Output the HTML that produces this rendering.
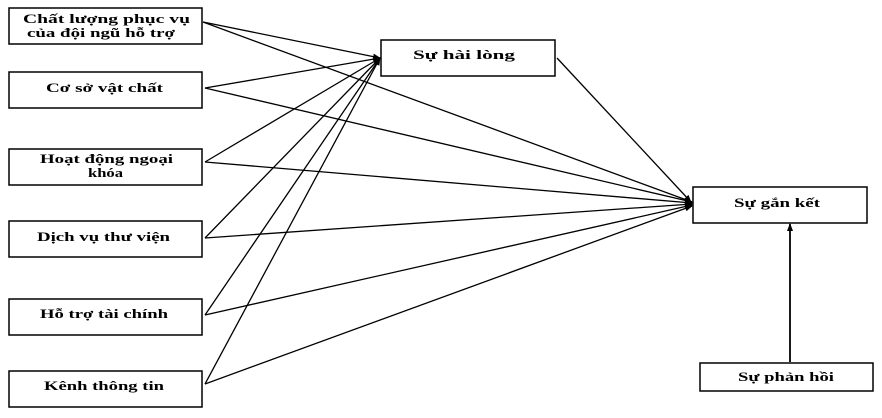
<!DOCTYPE html>
<html><head><meta charset="utf-8"><style>
body{margin:0;background:#fff;width:882px;height:413px;overflow:hidden}
svg text{font-family:"Liberation Serif","DejaVu Serif",serif;font-weight:bold;font-size:13px;fill:#000}
</style></head><body>
<svg width="882" height="413" xmlns="http://www.w3.org/2000/svg">
<defs><marker id="a" markerWidth="8" markerHeight="8" refX="7" refY="4" orient="auto" markerUnits="userSpaceOnUse"><path d="M0,1 L8,4 L0,7 z" fill="#000"/></marker></defs>
<g fill="#fff" stroke="#000" stroke-width="1.5">
<rect x="9" y="8" width="193" height="36"/>
<rect x="9" y="72" width="193" height="36"/>
<rect x="9" y="149" width="193" height="36"/>
<rect x="9" y="221" width="193" height="36"/>
<rect x="9" y="299" width="193" height="36"/>
<rect x="9" y="371" width="193" height="36"/>
<rect x="381" y="40" width="174" height="36"/>
<rect x="693" y="187" width="174" height="36"/>
<rect x="700" y="363" width="173" height="28"/>
</g>
<g stroke="#000" stroke-width="1.3" marker-end="url(#a)">
<line x1="203" y1="22" x2="380" y2="58"/>
<line x1="205" y1="88" x2="380" y2="58"/>
<line x1="205" y1="162" x2="380" y2="58"/>
<line x1="205" y1="238" x2="380" y2="58"/>
<line x1="205" y1="315" x2="380" y2="58"/>
<line x1="205" y1="384" x2="380" y2="58"/>
<line x1="203" y1="22" x2="692" y2="202"/>
<line x1="205" y1="88" x2="692" y2="202"/>
<line x1="205" y1="162" x2="692" y2="203"/>
<line x1="205" y1="238" x2="692" y2="204"/>
<line x1="205" y1="315" x2="692" y2="205"/>
<line x1="205" y1="384" x2="692" y2="206"/>
<line x1="557" y1="58" x2="691" y2="202"/>
<line x1="790" y1="362" x2="790" y2="224" stroke-width="1.8"/>
</g>
<text x="23" y="23" textLength="167" lengthAdjust="spacingAndGlyphs">Chất lượng phục vụ</text>
<text x="27" y="37" textLength="148" lengthAdjust="spacingAndGlyphs">của đội ngũ hỗ trợ</text>
<text x="46" y="92" textLength="117" lengthAdjust="spacingAndGlyphs">Cơ sở vật chất</text>
<text x="40" y="163" textLength="133" lengthAdjust="spacingAndGlyphs">Hoạt động ngoại</text>
<text x="88" y="177" textLength="35" lengthAdjust="spacingAndGlyphs">khóa</text>
<text x="37" y="241" textLength="133" lengthAdjust="spacingAndGlyphs">Dịch vụ thư viện</text>
<text x="40" y="318" textLength="128" lengthAdjust="spacingAndGlyphs">Hỗ trợ tài chính</text>
<text x="44" y="390" textLength="120" lengthAdjust="spacingAndGlyphs">Kênh thông tin</text>
<text x="413" y="59" textLength="102" lengthAdjust="spacingAndGlyphs">Sự hài lòng</text>
<text x="734" y="207" textLength="86" lengthAdjust="spacingAndGlyphs">Sự gắn kết</text>
<text x="738" y="381" textLength="96" lengthAdjust="spacingAndGlyphs">Sự phản hồi</text>
</svg>
</body></html>
